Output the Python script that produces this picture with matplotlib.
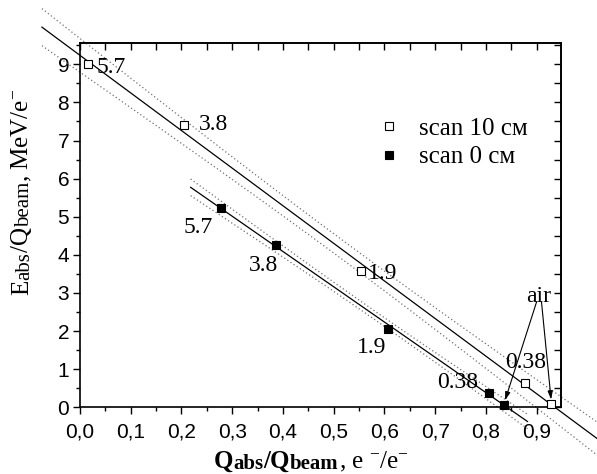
import numpy as np
import matplotlib
matplotlib.use("Agg")
import matplotlib.pyplot as plt
from matplotlib.ticker import MultipleLocator, FuncFormatter

plt.rcParams["font.family"] = ["Liberation Serif", "DejaVu Serif"]
plt.rcParams["mathtext.fontset"] = "custom"
plt.rcParams["mathtext.rm"] = "Liberation Serif"
plt.rcParams["mathtext.bf"] = "Liberation Serif:bold"
plt.rcParams["mathtext.it"] = "Liberation Serif:italic"

# scan 10 cm (open squares)
q10 = [0.015, 0.205, 0.553, 0.877, 0.929]
e10 = [9.00, 7.42, 3.58, 0.65, 0.08]
lab10 = ["5.7", "3.8", "1.9", "0.38", ""]

# scan 0 cm (filled squares)
q0 = [0.277, 0.387, 0.607, 0.806, 0.836]
e0 = [5.22, 4.27, 2.06, 0.38, 0.06]
lab0 = ["5.7", "3.8", "1.9", "0.38", ""]

T95_DF3 = 3.182  # student t, 95 %, 3 dof


def fit_band(x, y, xs):
    x = np.asarray(x)
    y = np.asarray(y)
    b, a = np.polyfit(x, y, 1)
    n = len(x)
    res = y - (a + b * x)
    s = np.sqrt(np.sum(res ** 2) / (n - 2))
    sxx = np.sum((x - x.mean()) ** 2)
    half = T95_DF3 * s * np.sqrt(1.0 / n + (xs - x.mean()) ** 2 / sxx)
    yf = a + b * xs
    return yf, yf - half, yf + half


def chain_text(ax, pieces, x0, y0, vertical=False):
    # pieces: (text, size, weight, drop in points); x0, y0 in figure pixels (baseline start)
    prev = None
    for txt, size, weight, drop in pieces:
        kw = dict(fontsize=size, fontweight=weight, ha="left", va="baseline",
                  annotation_clip=False)
        if vertical:
            kw.update(rotation=90, rotation_mode="anchor")
        if prev is None:
            coords, xy = "figure pixels", (x0, y0)
        elif vertical:
            coords, xy = ("figure pixels", prev), (x0, 1)
        else:
            coords, xy = (prev, "figure pixels"), (1, y0)
        off = (drop, 0) if vertical else (0, -drop)
        prev = ax.annotate(txt, xy=xy, xycoords=coords, xytext=off,
                           textcoords="offset points", **kw)


fig = plt.figure(figsize=(5.97, 4.74), dpi=100)
ax = fig.add_axes([0.134, 0.1407, 0.8057, 0.7679])

# fit lines with confidence bands, drawn past the frame
for qx, ey, (x1, x2) in [(q10, e10, (-0.075, 1.02)), (q0, e0, (0.218, 0.882))]:
    xs = np.linspace(x1, x2, 200)
    yf, lo, hi = fit_band(qx, ey, xs)
    ax.plot(xs, yf, color="black", lw=0.9, clip_on=False, zorder=2)
    ax.plot(xs, lo, color="#707070", lw=0.9, ls=(0, (1, 2)), clip_on=False, zorder=2)
    ax.plot(xs, hi, color="#707070", lw=0.9, ls=(0, (1, 2)), clip_on=False, zorder=2)

ax.plot(q10, e10, ls="none", marker="s", ms=5.8, mfc="white", mec="black",
        mew=0.8, clip_on=False, zorder=4, label="scan 10 см")
ax.plot(q0, e0, ls="none", marker="s", ms=5.8, mfc="black", mec="black",
        mew=0.8, clip_on=False, zorder=4, label="scan 0 см")

# point labels: (dx, dy) in pixels, ha
offs10 = [(9, -8.7, "left"), (15, -5.7, "left"), (7, -8.3, "left"), (1, 14.7, "center")]
offs0 = [(-7.7, -24.7, "right"), (1.3, -26, "right"), (-1.3, -24, "right"), (-11, 4.7, "right")]
for xs_, ys_, labs, offs in [(q10, e10, lab10, offs10), (q0, e0, lab0, offs0)]:
    for x, y, t, (dx, dy, ha) in zip(xs_, ys_, labs, offs):
        ax.annotate(t, (x, y), xytext=(dx * 0.72, dy * 0.72), textcoords="offset points",
                    ha=ha, va="baseline", fontsize=17, zorder=5)

# "air" pointers
ax.text(0.9035, 2.77, "air", ha="center", va="baseline", fontsize=17)
for qa, ea, xstart in [(q0[4], e0[4], 0.900), (q10[4], e10[4], 0.9095)]:
    ax.annotate("", xy=(qa, ea + 0.05), xytext=(xstart, 2.77),
                arrowprops=dict(arrowstyle="-|>,head_length=0.5,head_width=0.15",
                                color="black", lw=0.8, shrinkA=0, shrinkB=2))

ax.set_xlim(0, 0.948)
ax.set_ylim(0, 9.55)

ax.xaxis.set_major_locator(MultipleLocator(0.1))
ax.xaxis.set_minor_locator(MultipleLocator(0.05))
ax.yaxis.set_major_locator(MultipleLocator(1))
ax.yaxis.set_minor_locator(MultipleLocator(0.5))
ax.xaxis.set_major_formatter(FuncFormatter(lambda v, p: f"{v:.1f}".replace(".", ",")))
ax.yaxis.set_major_formatter(FuncFormatter(lambda v, p: f"{v:.0f}"))

ax.tick_params(which="both", direction="out", width=1.0)
ax.tick_params(which="major", length=4.8, pad=6)
ax.tick_params(which="minor", length=2.8)
for lbl in ax.get_xticklabels() + ax.get_yticklabels():
    lbl.set_fontfamily("Liberation Sans")
    lbl.set_fontsize(15)
ax.tick_params(axis="y", pad=3)

for sp in ax.spines.values():
    sp.set_linewidth(1.2)

top = ax.secondary_xaxis("top")
top.xaxis.set_major_locator(MultipleLocator(0.05))
top.tick_params(direction="in", length=4.8, width=1.0, labeltop=False)
right = ax.secondary_yaxis("right")
right.yaxis.set_major_locator(MultipleLocator(0.5))
right.tick_params(direction="in", length=4.8, width=1.0, labelright=False)
top.spines["top"].set_linewidth(1.2)
right.spines["right"].set_linewidth(1.2)

# axis titles, built from pieces so the small parts sit near the baseline
chain_text(ax, [("Q", 18, "bold", 0), ("abs", 15, "bold", 1), ("/Q", 18, "bold", 0),
                ("beam", 15, "bold", 1), (", e $^{-}$/e$^{-}$", 18, "normal", 0)],
           214, 6)
chain_text(ax, [("E", 18, "normal", 0), ("abs", 15, "normal", 1), ("/Q", 18, "normal", 0),
                ("beam", 15, "normal", 1), (", MeV/e$^{-}$", 18, "normal", 0)],
           28, 179, vertical=True)

ax.legend(loc="center left", bbox_to_anchor=(0.622, 0.727), frameon=False,
          fontsize=18, handlelength=0.8, handletextpad=0.8, labelspacing=0.25,
          borderpad=0, borderaxespad=0, markerscale=0.9)

fig.savefig("out.png", dpi=100)
